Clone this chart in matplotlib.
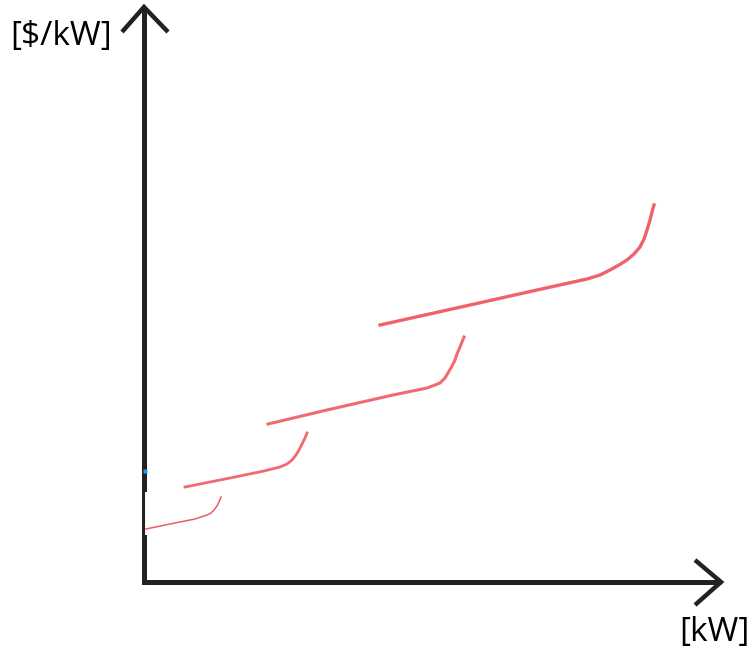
import matplotlib
matplotlib.use('Agg')
import matplotlib.pyplot as plt

# sketch of price steps (x: kW, y: $/kW, arbitrary units)
step1_x = [2, 26, 51, 63, 67, 70, 73, 75, 77]
step1_y = [53, 58, 63, 67, 69, 72, 76, 80, 85]

step2_x = [41, 86, 120, 136, 143, 148, 152, 155, 158, 161, 163]
step2_y = [95, 104, 111, 115, 118, 122, 127, 132, 138, 144, 149]

step3_x = [124, 183, 249, 283, 291, 296, 301, 304, 308, 311, 313, 316, 320]
step3_y = [158, 172, 187, 194, 197, 199, 204, 209, 216, 222, 228, 235, 245]

step4_x = [236, 326, 393, 443, 456, 466, 475, 483, 490, 496, 500, 503, 506, 508, 510]
step4_y = [257, 277, 292, 303, 307, 312, 317, 322, 328, 335, 343, 352, 362, 370, 377]

x_label = '[kW]'
y_label = '[$/kW]'

plt.rcParams['font.family'] = ['Open Sans', 'DejaVu Sans']

fig = plt.figure(figsize=(7.53, 6.52), dpi=100)
ax = fig.add_axes([0, 0, 1, 1])
ax.set_xlim(-144, 609)
ax.set_ylim(-70, 582)
ax.axis('off')

axis_col = '#222222'
red = '#ef5a64'

# axes with arrow heads
ax.plot([0, 0, 577], [575, 0, 0], color=axis_col, lw=3.6,
        solid_joinstyle='miter', solid_capstyle='butt')
ax.plot([-22, 0, 24], [550, 575, 550], color=axis_col, lw=3.2,
        solid_joinstyle='miter', solid_capstyle='butt')
ax.plot([551, 577, 551], [22, 0, -23], color=axis_col, lw=3.2,
        solid_joinstyle='miter', solid_capstyle='butt')
# small white gap and blue dot on the y axis (from the sketch)
ax.plot([2.2, 2.2], [47, 90], color='white', lw=1.4, solid_capstyle='butt')
ax.plot([1], [111], marker='s', ms=2.5, color='#1ea0f0', mec='none')

ax.plot(step1_x, step1_y, color=red, lw=1.1, solid_joinstyle='round')
ax.plot(step2_x, step2_y, color=red, lw=2.0, alpha=0.9, solid_joinstyle='round')
ax.plot(step3_x, step3_y, color=red, lw=2.2, alpha=0.9, solid_joinstyle='round')
ax.plot(step4_x, step4_y, color=red, lw=2.4, alpha=0.95, solid_joinstyle='round')

ax.text(-32, 545, y_label, ha='right', va='center', fontsize=24, color='black')
ax.text(606, -51, x_label, ha='right', va='center', fontsize=24, color='black')

fig.savefig('out.png', dpi=100)
plt.close(fig)
